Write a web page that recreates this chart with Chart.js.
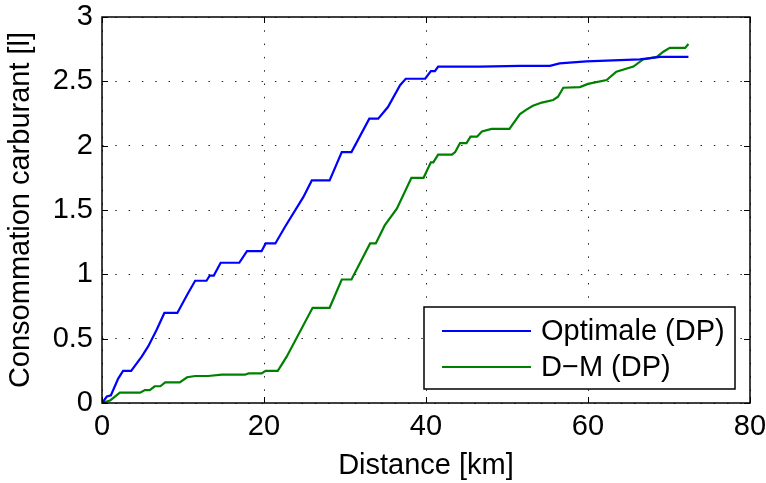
<!DOCTYPE html>
<html>
<head>
<meta charset="utf-8">
<script src="https://cdn.jsdelivr.net/npm/chart.js@4/dist/chart.umd.min.js"></script>
<style>
  body { margin: 0; background: #fff; }
  .chart { position: relative; width: 766px; height: 483px; }
</style>
</head>
<body>
<div class="chart"><canvas id="fuel"></canvas></div>
<script>
// distance [km] / cumulative fuel [l]
const optKm = [0, 0.6, 1.1, 2.0, 2.6, 3.6, 4.9, 5.7, 6.75, 7.7, 9.3, 10.5, 11.5, 12.9, 13.3,
  13.8, 14.65, 16.95, 17.9, 19.7, 20.2, 21.4, 22.6, 24.85, 25.9, 28.1, 29.6, 30.8, 33.0, 34.1,
  35.3, 36.8, 37.5, 39.9, 40.6, 41.1, 41.5, 46.7, 51.6, 55.3, 56.5, 59.8, 66.4, 68.9, 72.4];
const optFuel = [0, 0.05, 0.06, 0.19, 0.25, 0.25, 0.36, 0.44, 0.57, 0.70, 0.70, 0.84, 0.95, 0.95, 0.99,
  0.99, 1.09, 1.09, 1.18, 1.18, 1.24, 1.24, 1.37, 1.60, 1.73, 1.73, 1.95, 1.95, 2.21, 2.21,
  2.30, 2.47, 2.52, 2.52, 2.58, 2.58, 2.615, 2.615, 2.62, 2.62, 2.64, 2.655, 2.67, 2.69, 2.69];

const dmKm = [0, 1.0, 1.6, 2.2, 4.7, 5.3, 5.9, 6.5, 7.2, 7.8, 9.6, 10.5, 11.5, 13.1, 14.8,
  17.65, 18.1, 19.7, 20.2, 21.7, 22.8, 26.0, 28.1, 29.6, 30.8, 33.1, 33.8, 34.9, 36.4, 38.2,
  39.7, 40.6, 40.9, 41.5, 43.2, 43.6, 44.2, 45.0, 45.5, 46.3, 46.9, 48.1, 50.3, 51.6, 52.4,
  53.2, 54.3, 55.7, 56.3, 56.95, 59.0, 60.0, 62.3, 63.5, 65.6, 66.8, 68.5, 69.3, 70.1, 72.0, 72.4];
const dmFuel = [0, 0.02, 0.05, 0.08, 0.08, 0.10, 0.10, 0.13, 0.13, 0.16, 0.16, 0.20, 0.21, 0.21, 0.22,
  0.22, 0.23, 0.23, 0.25, 0.25, 0.36, 0.74, 0.74, 0.96, 0.96, 1.24, 1.24, 1.38, 1.51, 1.75,
  1.75, 1.87, 1.87, 1.93, 1.93, 1.95, 2.02, 2.02, 2.07, 2.07, 2.11, 2.13, 2.13, 2.245, 2.28,
  2.31, 2.335, 2.355, 2.38, 2.45, 2.455, 2.48, 2.51, 2.575, 2.615, 2.67, 2.69, 2.73, 2.76, 2.76, 2.79];

const seriesNames = ['Optimale (DP)', 'D\u2212M (DP)'];
const seriesColors = ['#0000ff', '#008000'];
const xTicks = [0, 20, 40, 60, 80];
const yTicks = [0, 0.5, 1, 1.5, 2, 2.5, 3];

const FONT = "'Liberation Sans', Arial, Helvetica, sans-serif";
const FONT_SIZE = 29;

/**
 * Zip two arrays into {x, y} points.
 */
function toPoints(xs, ys) {
  return xs.map((x, i) => ({ x, y: ys[i] }));
}

// MATLAB-like frame: box, inward ticks on all four sides, legend inside the axes
const matlabFrame = {
  id: 'matlabFrame',
  afterDraw(chart) {
    const { ctx, chartArea: a, scales } = chart;
    const tick = 6;
    ctx.save();
    ctx.strokeStyle = '#000';
    ctx.lineWidth = 1.5;
    ctx.strokeRect(a.left, a.top, a.right - a.left, a.bottom - a.top);

    ctx.lineWidth = 1;
    ctx.beginPath();
    xTicks.forEach((v) => {
      const px = Math.round(scales.x.getPixelForValue(v)) + 0.5;
      ctx.moveTo(px, a.bottom); ctx.lineTo(px, a.bottom - tick);
      ctx.moveTo(px, a.top); ctx.lineTo(px, a.top + tick);
    });
    yTicks.forEach((v) => {
      const py = Math.round(scales.y.getPixelForValue(v)) + 0.5;
      ctx.moveTo(a.left, py); ctx.lineTo(a.left + tick, py);
      ctx.moveTo(a.right, py); ctx.lineTo(a.right - tick, py);
    });
    ctx.stroke();

    // legend box (south-east)
    const box = { left: 424, top: 307, right: 735, bottom: 389 };
    ctx.fillStyle = '#fff';
    ctx.fillRect(box.left, box.top, box.right - box.left, box.bottom - box.top);
    ctx.lineWidth = 1.5;
    ctx.strokeStyle = '#000';
    ctx.strokeRect(box.left, box.top, box.right - box.left, box.bottom - box.top);

    const rows = [331, 367];
    ctx.font = `${FONT_SIZE}px ${FONT}`;
    ctx.textBaseline = 'middle';
    ctx.textAlign = 'left';
    seriesNames.forEach((name, i) => {
      ctx.strokeStyle = seriesColors[i];
      ctx.lineWidth = 2.2;
      ctx.beginPath();
      ctx.moveTo(442, rows[i]);
      ctx.lineTo(531, rows[i]);
      ctx.stroke();
      ctx.fillStyle = '#000';
      ctx.fillText(name, 541, rows[i] + 1);
    });
    ctx.restore();
  },
};

const gridStyle = {
  color: 'rgba(0,0,0,0.85)',
  lineWidth: 1,
  drawTicks: false,
};

new Chart(document.getElementById('fuel'), {
  type: 'line',
  data: {
    datasets: [
      { label: seriesNames[0], data: toPoints(optKm, optFuel), borderColor: seriesColors[0] },
      { label: seriesNames[1], data: toPoints(dmKm, dmFuel), borderColor: seriesColors[1] },
    ],
  },
  options: {
    responsive: true,
    maintainAspectRatio: false,
    animation: false,
    layout: { padding: { top: 17, right: 16, left: 0, bottom: 0 } },
    elements: {
      point: { radius: 0 },
      line: { borderWidth: 2.2, tension: 0 },
    },
    plugins: { legend: { display: false }, tooltip: { enabled: false } },
    scales: {
      x: {
        type: 'linear',
        min: 0,
        max: 80,
        afterBuildTicks: (s) => { s.ticks = xTicks.map((value) => ({ value })); },
        afterFit: (s) => {
          s.height = 80;
          s.paddingLeft = 0;
          s.paddingRight = 0;
        },
        ticks: { color: '#000', font: { family: FONT, size: FONT_SIZE }, padding: 7, maxRotation: 0 },
        grid: gridStyle,
        border: { display: false, dash: [1.5, 11.8] },
        title: {
          display: true,
          text: 'Distance [km]',
          color: '#000',
          font: { family: FONT, size: FONT_SIZE },
          padding: { top: 0, bottom: 0 },
        },
      },
      y: {
        min: 0,
        max: 3,
        afterBuildTicks: (s) => { s.ticks = yTicks.map((value) => ({ value })); },
        afterFit: (s) => {
          s.width = 102;
          s.paddingTop = 0;
          s.paddingBottom = 0;
        },
        ticks: {
          color: '#000',
          font: { family: FONT, size: FONT_SIZE },
          padding: 9,
          callback: (v) => String(v),
        },
        grid: gridStyle,
        border: { display: false, dash: [1.5, 11.8] },
        title: {
          display: true,
          text: 'Consommation carburant [l]',
          color: '#000',
          font: { family: FONT, size: FONT_SIZE },
          padding: { top: 4, bottom: 0 },
        },
      },
    },
  },
  plugins: [matlabFrame],
});
</script>
</body>
</html>
